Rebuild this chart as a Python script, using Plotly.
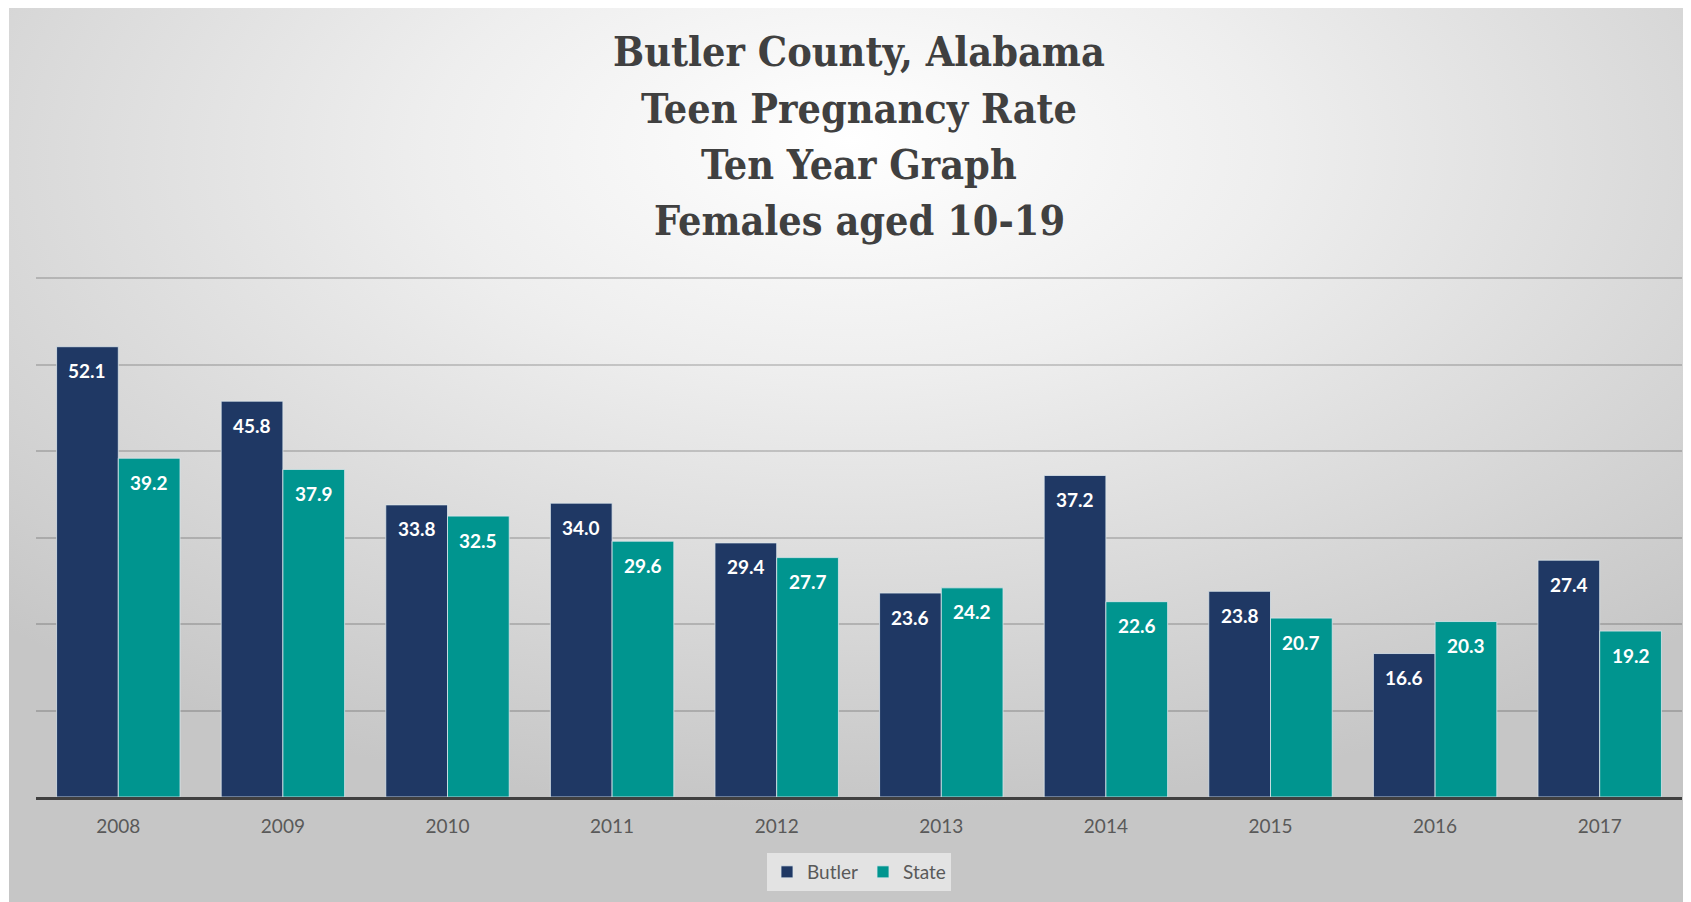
import plotly.graph_objects as go
import urllib.parse

years = ["2008", "2009", "2010", "2011", "2012", "2013", "2014", "2015", "2016", "2017"]
butler = [52.1, 45.8, 33.8, 34.0, 29.4, 23.6, 37.2, 23.8, 16.6, 27.4]
state = [39.2, 37.9, 32.5, 29.6, 27.7, 24.2, 22.6, 20.7, 20.3, 19.2]
title_lines = ["Butler County, Alabama", "Teen Pregnancy Rate", "Ten Year Graph", "Females aged 10-19"]

# page body has an 8px margin; work in figure coordinates = reference px - 8
OFF = 8
YMAX, YTOP = 60, 60.4
PX_PER_UNIT = (797 - 278) / YMAX
W, H = 1691 - OFF, 902 - OFF
ML = 36 - OFF
MR = W - (1682 - OFF)
MT = round(278 - (YTOP - YMAX) * PX_PER_UNIT) - OFF
MB = H - (797 - OFF)
PW = W - ML - MR
PH = H - MT - MB
BARGAP = 0.25
cat_w = PW / len(years)
bar_w = cat_w * (1 - BARGAP) / 2
off = bar_w / 2

NAVY = "#1f3864"
TEAL = "#00958f"

svg = (
    '<svg xmlns="http://www.w3.org/2000/svg" width="1682" height="897" viewBox="0 0 1682 897" preserveAspectRatio="none">'
    '<defs><radialGradient id="g" cx="0.5" cy="0.18" r="0.72" fx="0.5" fy="0.15">'
    '<stop offset="0" stop-color="#ffffff"/>'
    '<stop offset="0.35" stop-color="#eeeeee"/>'
    '<stop offset="1" stop-color="#c6c6c6"/>'
    '</radialGradient></defs>'
    '<rect x="0" y="0" width="1682" height="897" fill="url(#g)"/>'
    '</svg>'
)
src = "data:image/svg+xml;charset=utf-8," + urllib.parse.quote(svg)


def px2paper_x(px):
    return (px - OFF - ML) / PW


def px2paper_y(py):
    return (H - MB - (py - OFF)) / PH


xi = list(range(len(years)))

fig = go.Figure()
fig.add_trace(go.Bar(name="Butler", x=xi, y=butler,
                     marker=dict(color=NAVY, line=dict(color="rgba(220,230,235,0.8)", width=1))))
fig.add_trace(go.Bar(name="State", x=xi, y=state,
                     marker=dict(color=TEAL, line=dict(color="rgba(220,230,235,0.8)", width=1))))

annos = []
for i in xi:
    for val, sh in ((butler[i], -off), (state[i], off)):
        annos.append(dict(x=i, y=val, xref="x", yref="y", text=f"{val:.1f}", showarrow=False,
                          xshift=sh, yshift=-24, yanchor="middle",
                          font=dict(family="Lato", size=19, color="white", weight="bold")))

title_centers = [52, 109, 165, 221]
for line, cy in zip(title_lines, title_centers):
    annos.append(dict(x=0.5, xref="paper", y=px2paper_y(cy), yref="paper", text=line,
                      showarrow=False, yanchor="middle", xanchor="center",
                      font=dict(family="DejaVu Serif Condensed, DejaVu Serif", size=41,
                                color="#404040", weight="bold")))

fig.update_layout(
    width=W, height=H,
    margin=dict(l=ML, r=MR, t=MT, b=MB, autoexpand=False),
    paper_bgcolor="white",
    plot_bgcolor="rgba(0,0,0,0)",
    barmode="group", bargap=BARGAP, bargroupgap=0,
    showlegend=True,
    legend=dict(orientation="h", x=0.5, xanchor="center", y=px2paper_y(872), yanchor="middle",
                bgcolor="#e3e3e3", font=dict(family="Lato", size=19, color="#595959"),
                traceorder="normal"),
    xaxis=dict(range=[-0.5, len(years) - 0.5], tickvals=xi, ticktext=years,
               showline=True, linecolor="#404040", linewidth=3, ticks="", showgrid=False, zeroline=False,
               ticklabelstandoff=10,
               tickfont=dict(family="Lato", size=19, color="#595959")),
    yaxis=dict(range=[0, YTOP], tickvals=[10, 20, 30, 40, 50, 60], showticklabels=False, showgrid=True,
               gridcolor="rgba(0,0,0,0.17)", gridwidth=1.5, zeroline=False, showline=False),
    annotations=annos,
    images=[dict(source=src, xref="paper", yref="paper", x=px2paper_x(9), y=px2paper_y(5),
                 sizex=(1691 - 9) / PW, sizey=(902 - 5) / PH, sizing="stretch", layer="below",
                 xanchor="left", yanchor="top")],
)

fig.write_html("out.html")
